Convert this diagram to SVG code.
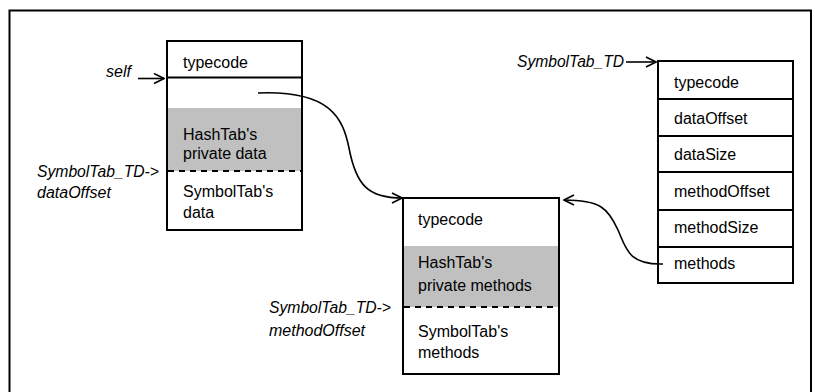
<svg xmlns="http://www.w3.org/2000/svg" width="815" height="392" viewBox="0 0 815 392">
<style>
.box{fill:#fff;stroke:#000;stroke-width:2}
.div{stroke:#000;stroke-width:2}
.dash{stroke:#000;stroke-width:2;stroke-dasharray:6,5}
.gray{fill:#c0c0c0}
.t{font-family:"Liberation Sans",Arial,sans-serif;font-size:16px;fill:#000}
.i{font-family:"Liberation Sans",Arial,sans-serif;font-size:16px;font-style:italic;fill:#000}
.con{fill:none;stroke:#000;stroke-width:1.6}
</style>
<defs>
<marker id="ah" viewBox="0 0 12 12" refX="11" refY="6" markerWidth="12" markerHeight="12" markerUnits="userSpaceOnUse" orient="auto">
<path d="M1,1 L11,6 L1,11" fill="none" stroke="#000" stroke-width="1.6"/>
</marker>
</defs>
<rect width="815" height="392" fill="#fff"/>
<path d="M9.5,392 V10.5 H811 V392" fill="none" stroke="#000" stroke-width="2"/>

<g id="instance">
<rect class="box" x="167" y="41" width="135" height="189"/>
<rect class="gray" x="168" y="108" width="133" height="63"/>
<line class="div" x1="167" y1="77.5" x2="302" y2="77.5"/>
<line class="dash" x1="168" y1="171" x2="301" y2="171"/>
<text class="t" x="183" y="68">typecode</text>
<text class="t" x="183" y="140">HashTab's</text>
<text class="t" x="183" y="159">private data</text>
<text class="t" x="183" y="197">SymbolTab's</text>
<text class="t" x="183" y="218">data</text>
</g>

<g id="mtable">
<rect class="box" x="403" y="198" width="156" height="176"/>
<rect class="gray" x="404" y="246" width="154" height="61"/>
<line class="dash" x1="404" y1="307" x2="558" y2="307"/>
<text class="t" x="418" y="225">typecode</text>
<text class="t" x="418" y="268">HashTab's</text>
<text class="t" x="418" y="291">private methods</text>
<text class="t" x="418" y="337">SymbolTab's</text>
<text class="t" x="418" y="358">methods</text>
</g>

<g id="typedesc">
<rect class="box" x="658" y="61" width="135" height="222"/>
<line class="div" x1="658" y1="99" x2="793" y2="99"/>
<line class="div" x1="658" y1="136" x2="793" y2="136"/>
<line class="div" x1="658" y1="172" x2="793" y2="172"/>
<line class="div" x1="658" y1="210" x2="793" y2="210"/>
<line class="div" x1="658" y1="247" x2="793" y2="247"/>
<text class="t" x="674" y="88">typecode</text>
<text class="t" x="674" y="124">dataOffset</text>
<text class="t" x="674" y="160">dataSize</text>
<text class="t" x="674" y="197">methodOffset</text>
<text class="t" x="674" y="233">methodSize</text>
<text class="t" x="674" y="269">methods</text>
</g>

<g id="labels">
<text class="i" x="106" y="77">self</text>
<text class="i" x="37" y="177" textLength="122" lengthAdjust="spacingAndGlyphs">SymbolTab_TD-&gt;</text>
<text class="i" x="37" y="198">dataOffset</text>
<text class="i" x="269" y="313" textLength="122" lengthAdjust="spacingAndGlyphs">SymbolTab_TD-&gt;</text>
<text class="i" x="269" y="336">methodOffset</text>
<text class="i" x="517" y="67" textLength="107" lengthAdjust="spacingAndGlyphs">SymbolTab_TD</text>
</g>

<g id="connectors">
<line class="con" x1="138" y1="78.5" x2="164" y2="78.5" marker-end="url(#ah)"/>
<line class="con" x1="626" y1="62" x2="656" y2="62" marker-end="url(#ah)"/>
<path class="con" d="M258,93 C330,90 343,118 349,148 C356,185 368,198 402,198" marker-end="url(#ah)"/>
<path class="con" d="M663,264 C628,265 626,248 618,230 C608,208 600,200 564,200" marker-end="url(#ah)"/>
</g>
</svg>
